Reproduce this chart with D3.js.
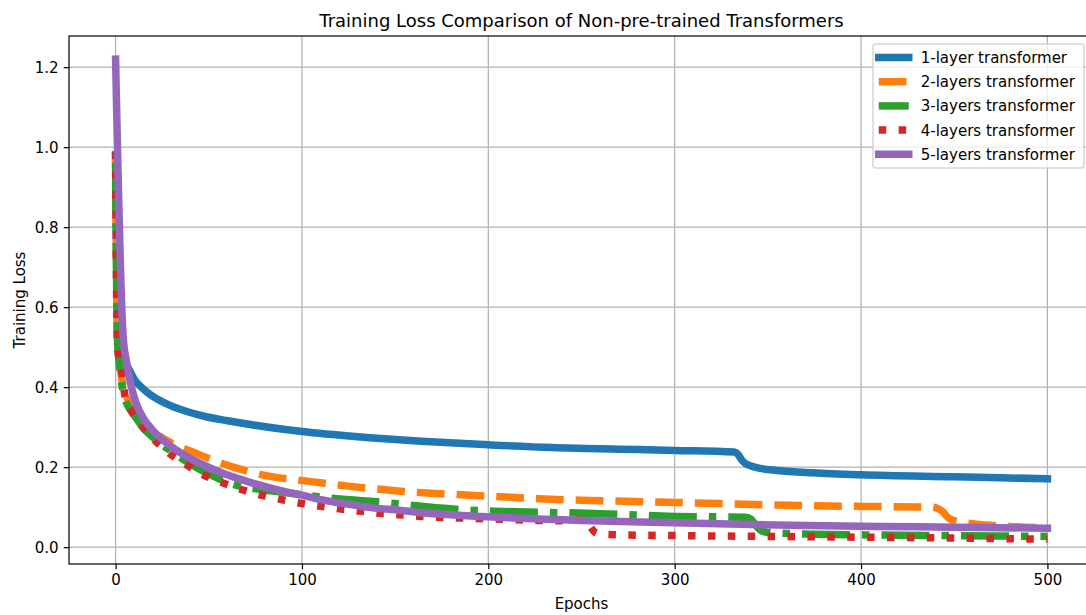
<!DOCTYPE html>
<html lang="en">
<head>
	<meta charset="UTF-8">
	<script type="text/javascript" src="https://d3js.org/d3.v7.min.js"></script>
	<title>Training Loss Comparison</title>
	<style>
		body{
			margin: 0;
			background: #fff;
		}
		text{
			font-family: "DejaVu Sans", sans-serif;
			fill: #000;
		}
		.grid line{
			stroke: #b0b0b0;
			stroke-width: 1.2;
		}
		.title{
			font-size: 18px;
		}
		.label{
			font-size: 15px;
		}
	</style>
</head>
<body>
<script type="text/javascript">
	// values (epoch, loss)
	const epochs1 = [0, 1, 2, 4, 6, 10, 15, 20, 28, 37, 47, 60, 73, 100, 130, 154, 164, 200, 234, 270, 300, 332, 334, 336, 338, 341, 346, 355, 374, 400, 450, 500];
	const loss1 = [0.98, 0.55, 0.50, 0.47, 0.455, 0.42, 0.395, 0.377, 0.357, 0.341, 0.328, 0.316, 0.306, 0.289, 0.276, 0.268, 0.265, 0.256, 0.249, 0.245, 0.242, 0.238, 0.232, 0.218, 0.209, 0.203, 0.197, 0.192, 0.186, 0.181, 0.176, 0.171];

	const epochs2 = [0, 1, 2, 3, 5, 7, 10, 13, 18, 24, 30, 42, 50, 60, 64, 83, 105, 126, 146, 153, 169, 190, 212, 233, 255, 300, 370, 400, 438, 441, 444, 446, 448, 452, 461, 480, 500];
	const loss2 = [0.97, 0.56, 0.47, 0.43, 0.39, 0.365, 0.34, 0.322, 0.295, 0.276, 0.26, 0.237, 0.222, 0.205, 0.199, 0.177, 0.164, 0.152, 0.143, 0.14, 0.135, 0.13, 0.125, 0.12, 0.117, 0.112, 0.104, 0.102, 0.1, 0.097, 0.088, 0.077, 0.07, 0.064, 0.058, 0.052, 0.048];

	const epochs3 = [0, 1, 2, 4, 8, 10, 15, 20, 24, 29, 33, 42, 50, 64, 80, 92, 114, 146, 156, 189, 231, 253, 300, 338, 341, 343, 346, 350, 370, 400, 450, 500];
	const loss3 = [0.96, 0.52, 0.46, 0.39, 0.343, 0.33, 0.297, 0.275, 0.26, 0.243, 0.23, 0.203, 0.183, 0.156, 0.143, 0.136, 0.123, 0.111, 0.106, 0.093, 0.087, 0.085, 0.077, 0.075, 0.07, 0.058, 0.043, 0.037, 0.033, 0.031, 0.029, 0.027];

	const epochs4 = [0, 1, 2, 3, 5, 8, 13, 20, 28, 38, 47, 57, 67, 78, 89, 99, 109, 120, 131, 141, 152, 164, 200, 240, 250, 253, 255, 257, 260, 270, 300, 350, 400, 450, 500];
	const loss4 = [0.99, 0.5, 0.47, 0.45, 0.38, 0.345, 0.31, 0.272, 0.238, 0.206, 0.181, 0.162, 0.145, 0.13, 0.119, 0.11, 0.103, 0.096, 0.09, 0.085, 0.081, 0.077, 0.071, 0.066, 0.068, 0.066, 0.05, 0.038, 0.033, 0.031, 0.029, 0.027, 0.025, 0.023, 0.02];

	const epochs5 = [0, 4, 6, 8, 11, 15, 20, 28, 37, 46, 58, 73, 88, 100, 110, 127, 137, 153, 163, 200, 250, 300, 370, 430, 500];
	const loss5 = [1.22, 0.53, 0.46, 0.41, 0.36, 0.322, 0.292, 0.258, 0.23, 0.208, 0.184, 0.161, 0.142, 0.13, 0.119, 0.106, 0.099, 0.092, 0.087, 0.076, 0.067, 0.061, 0.054, 0.051, 0.0475];

	const labels = ["1-layer transformer", "2-layers transformer", "3-layers transformer",
		"4-layers transformer", "5-layers transformer"];
	const xTicks = [0, 100, 200, 300, 400, 500];
	const yTicks = [0.0, 0.2, 0.4, 0.6, 0.8, 1.0, 1.2];

	// styles
	const colors = ["#1f77b4", "#ff7f0e", "#2ca02c", "#d62728", "#9467bd"];
	const dashes = [null, "27.75,12", "48,12,7.5,12", "7.5,12.4", null];
	const caps = ["square", "butt", "butt", "butt", "square"];

	const series = [
		[epochs1, loss1], [epochs2, loss2], [epochs3, loss3], [epochs4, loss4], [epochs5, loss5]
	].map(function (s) {
		return s[0].map(function (e, i) { return {epoch: e, loss: s[1][i]}; });
	});

	const svg = d3.select("body")
			.append("svg")
			.attr("width", 1086)
			.attr("height", 615),
		mLeft = 69, mTop = 36, mRight = 1094, mBottom = 564;

	let x = d3.scaleLinear().domain([-25, 525]).range([mLeft, mRight]),
		y = d3.scaleLinear().domain([-0.042, 1.278]).range([mBottom, mTop]);

	// grid
	let grid = svg.append("g").attr("class", "grid");
	grid.selectAll(".vx")
		.data(xTicks)
		.enter()
		.append("line")
		.attr("x1", function (d) { return x(d); })
		.attr("x2", function (d) { return x(d); })
		.attr("y1", mTop)
		.attr("y2", mBottom);
	grid.selectAll(".hy")
		.data(yTicks)
		.enter()
		.append("line")
		.attr("x1", mLeft)
		.attr("x2", mRight)
		.attr("y1", function (d) { return y(d); })
		.attr("y2", function (d) { return y(d); });

	// lines
	let line = d3.line()
		.x(function (d) { return x(d.epoch); })
		.y(function (d) { return y(d.loss); })
		.curve(d3.curveMonotoneX);

	svg.append("g")
		.selectAll("path")
		.data(series)
		.enter()
		.append("path")
		.attr("d", line)
		.attr("fill", "none")
		.attr("stroke", function (d, i) { return colors[i]; })
		.attr("stroke-width", 7.5)
		.attr("stroke-linejoin", "round")
		.attr("stroke-linecap", function (d, i) { return caps[i]; })
		.attr("stroke-dasharray", function (d, i) { return dashes[i]; });

	// axes
	let xAxis = svg.append("g")
		.attr("transform", "translate(0," + mBottom + ")")
		.call(d3.axisBottom(x).tickValues(xTicks).tickSize(5.25).tickPadding(5.25).tickFormat(d3.format("d")));
	let yAxis = svg.append("g")
		.attr("transform", "translate(" + mLeft + ",0)")
		.call(d3.axisLeft(y).tickValues(yTicks).tickSize(5.25).tickPadding(5.25).tickFormat(d3.format(".1f")));
	[xAxis, yAxis].forEach(function (a) {
		a.select(".domain").remove();
		a.selectAll(".tick line").attr("stroke", "#000").attr("stroke-width", 1.2);
		a.selectAll("text")
			.attr("font-family", "DejaVu Sans")
			.attr("font-size", 15)
			.attr("fill", "#000");
	});

	// spines
	svg.append("rect")
		.attr("x", mLeft)
		.attr("y", mTop)
		.attr("width", mRight - mLeft)
		.attr("height", mBottom - mTop)
		.attr("fill", "none")
		.attr("stroke", "#000")
		.attr("stroke-width", 1.2);

	// title and labels
	svg.append("text")
		.attr("class", "title")
		.attr("x", (mLeft + mRight) / 2)
		.attr("y", 27)
		.attr("text-anchor", "middle")
		.text("Training Loss Comparison of Non-pre-trained Transformers");
	svg.append("text")
		.attr("class", "label")
		.attr("x", (mLeft + mRight) / 2)
		.attr("y", 609)
		.attr("text-anchor", "middle")
		.text("Epochs");
	svg.append("text")
		.attr("class", "label")
		.attr("transform", "translate(25," + (mTop + mBottom) / 2 + ") rotate(-90)")
		.attr("text-anchor", "middle")
		.text("Training Loss");

	// legend
	let legend = svg.append("g");
	legend.append("rect")
		.attr("x", 873)
		.attr("y", 44)
		.attr("width", 211)
		.attr("height", 124)
		.attr("rx", 3)
		.attr("fill", "#fff")
		.attr("fill-opacity", 0.8)
		.attr("stroke", "#cccccc")
		.attr("stroke-opacity", 0.8)
		.attr("stroke-width", 1.5);
	let rows = legend.selectAll(".row")
		.data(labels)
		.enter()
		.append("g")
		.attr("transform", function (d, i) { return "translate(0," + (57.5 + i * 24.2) + ")"; });
	rows.append("line")
		.attr("x1", 878.75)
		.attr("x2", 908.75)
		.attr("stroke", function (d, i) { return colors[i]; })
		.attr("stroke-width", 7.5)
		.attr("stroke-linecap", function (d, i) { return caps[i]; })
		.attr("stroke-dasharray", function (d, i) { return dashes[i]; });
	rows.append("text")
		.attr("class", "label")
		.attr("x", 920.75)
		.attr("dy", "0.36em")
		.text(function (d) { return d; });
</script>

</body>
</html>
